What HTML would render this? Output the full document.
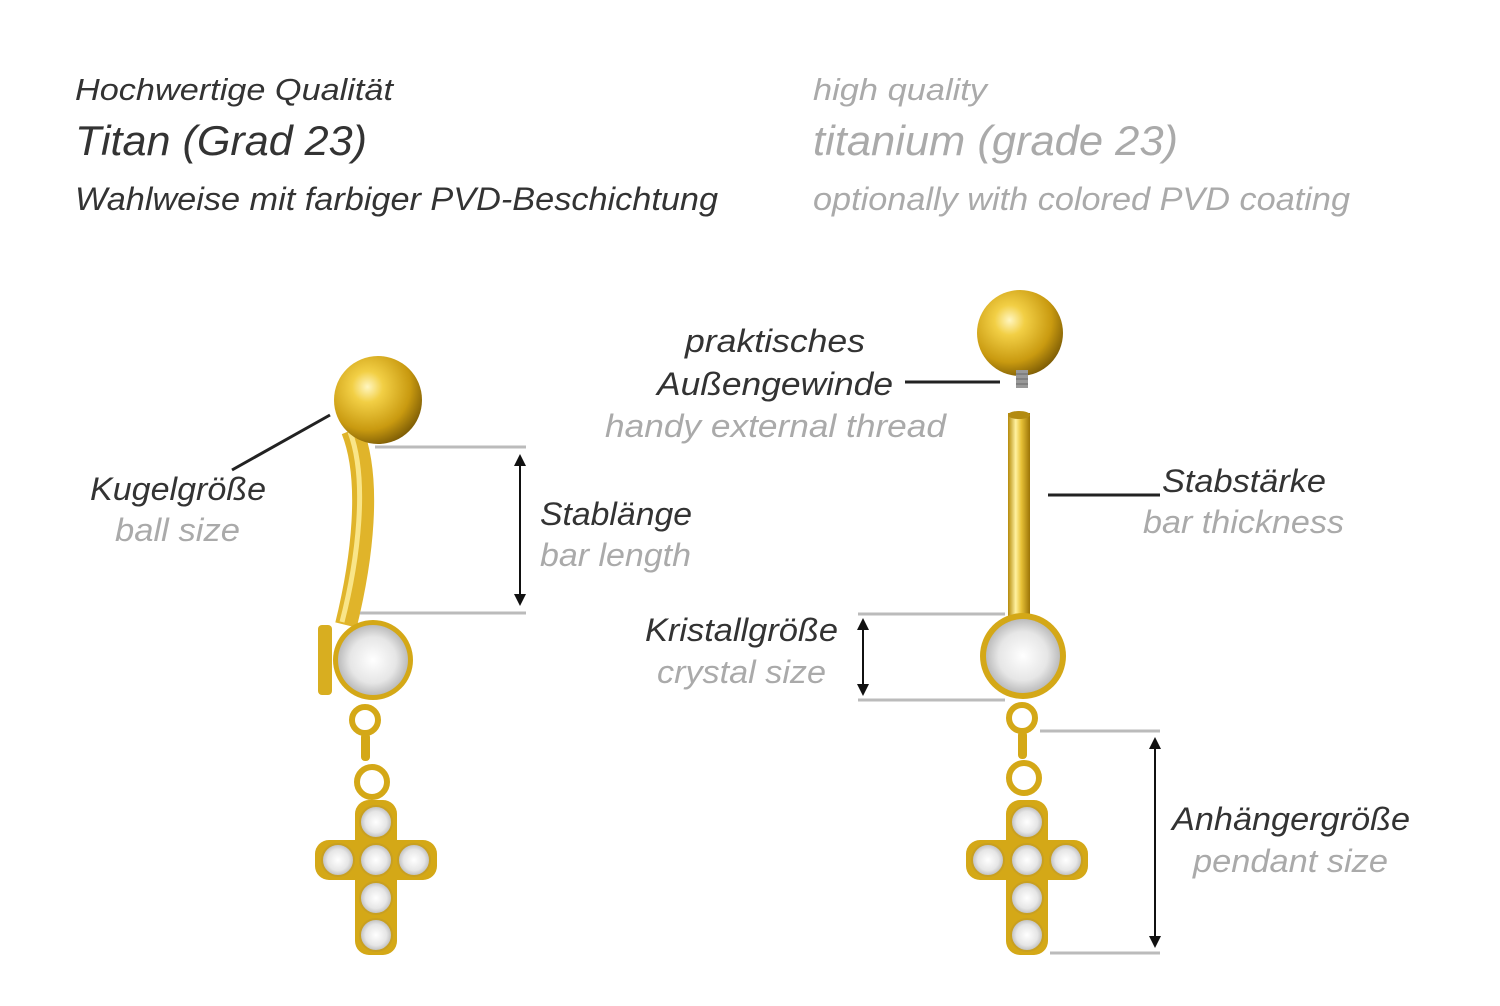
<!DOCTYPE html>
<html><head><meta charset="utf-8">
<style>
html,body{margin:0;padding:0;background:#fff;}
body{width:1500px;height:1001px;overflow:hidden;}
svg text{font-family:"Liberation Sans",Arial,sans-serif;font-style:italic;}
</style></head>
<body>
<svg width="1500" height="1001" viewBox="0 0 1500 1001" xmlns="http://www.w3.org/2000/svg">
<defs>
<radialGradient id="ball" cx="0.38" cy="0.35" r="0.7">
<stop offset="0" stop-color="#fff6c0"/><stop offset="0.25" stop-color="#f2cf45"/><stop offset="0.7" stop-color="#c99a10"/><stop offset="1" stop-color="#7a5a05"/></radialGradient>
<linearGradient id="bar" x1="0" x2="1" y1="0" y2="0">
<stop offset="0" stop-color="#b58a0a"/><stop offset="0.35" stop-color="#fff1a0"/><stop offset="0.6" stop-color="#e8c238"/><stop offset="1" stop-color="#9c7406"/></linearGradient>
<radialGradient id="gem" cx="0.5" cy="0.5" r="0.55">
<stop offset="0" stop-color="#ffffff"/><stop offset="0.6" stop-color="#e6e6e6"/><stop offset="0.9" stop-color="#bdbdbd"/><stop offset="1" stop-color="#8a8a8a"/></radialGradient>
<marker id="ah" viewBox="0 0 10 10" refX="5" refY="5" markerWidth="6" markerHeight="6" orient="auto-start-reverse"><path d="M0,0 L10,5 L0,10 z" fill="#111"/></marker>
</defs>

<g lengthAdjust="spacingAndGlyphs">
<text x="75" y="100" font-size="31" fill="#333" textLength="318" lengthAdjust="spacingAndGlyphs">Hochwertige Qualität</text>
<text x="75" y="155" font-size="42" fill="#333" textLength="292" lengthAdjust="spacingAndGlyphs">Titan (Grad 23)</text>
<text x="75" y="210" font-size="32" fill="#333" textLength="643" lengthAdjust="spacingAndGlyphs">Wahlweise mit farbiger PVD-Beschichtung</text>
<text x="813" y="100" font-size="31" fill="#aaa" textLength="174" lengthAdjust="spacingAndGlyphs">high quality</text>
<text x="813" y="155" font-size="42" fill="#aaa" textLength="365" lengthAdjust="spacingAndGlyphs">titanium (grade 23)</text>
<text x="813" y="210" font-size="32" fill="#aaa" textLength="537" lengthAdjust="spacingAndGlyphs">optionally with colored PVD coating</text>
</g>

<!-- LEFT piece -->
<g>
<path d="M352,430 C372,480 362,560 346,625" stroke="#e0b42a" stroke-width="22" fill="none"/>
<path d="M350,432 C368,480 358,560 342,622" stroke="#fff1a0" stroke-width="5" fill="none" opacity="0.8"/>
<circle cx="378" cy="400" r="44" fill="url(#ball)"/>
<rect x="318" y="625" width="14" height="70" rx="4" fill="#d8ae20"/>
<circle cx="373" cy="660" r="40" fill="#d4a817"/>
<circle cx="373" cy="660" r="35" fill="url(#gem)"/>
<circle cx="365" cy="720" r="13" fill="none" stroke="#d4a817" stroke-width="6"/>
<rect x="361" y="733" width="9" height="28" rx="4" fill="#d4a817"/>
<circle cx="372" cy="782" r="15" fill="none" stroke="#d4a817" stroke-width="6"/>
<g fill="#d4a817">
<rect x="355" y="800" width="42" height="155" rx="14"/>
<rect x="315" y="840" width="122" height="40" rx="14"/>
</g>
<g fill="url(#gem)" stroke="#c9a020" stroke-width="2">
<circle cx="376" cy="822" r="16"/><circle cx="376" cy="860" r="16"/><circle cx="376" cy="898" r="16"/><circle cx="376" cy="935" r="16"/>
<circle cx="338" cy="860" r="16"/><circle cx="414" cy="860" r="16"/>
</g>
</g>

<!-- LEFT annotations -->
<line x1="232" y1="470" x2="330" y2="415" stroke="#222" stroke-width="3"/>
<text x="90" y="500" font-size="32" fill="#333" textLength="176" lengthAdjust="spacingAndGlyphs">Kugelgröße</text>
<text x="115" y="541" font-size="32" fill="#aaa" textLength="125" lengthAdjust="spacingAndGlyphs">ball size</text>
<line x1="375" y1="447" x2="526" y2="447" stroke="#bbb" stroke-width="3"/>
<line x1="360" y1="613" x2="526" y2="613" stroke="#bbb" stroke-width="3"/>
<line x1="520" y1="460" x2="520" y2="600" stroke="#111" stroke-width="2" marker-start="url(#ah)" marker-end="url(#ah)"/>
<text x="540" y="525" font-size="32" fill="#333" textLength="152" lengthAdjust="spacingAndGlyphs">Stablänge</text>
<text x="540" y="566" font-size="32" fill="#aaa" textLength="151" lengthAdjust="spacingAndGlyphs">bar length</text>

<!-- RIGHT piece -->
<g>
<circle cx="1020" cy="333" r="43" fill="url(#ball)"/>
<rect x="1016" y="370" width="12" height="18" fill="#999"/>
<g stroke="#666" stroke-width="1"><line x1="1016" y1="374" x2="1028" y2="374"/><line x1="1016" y1="379" x2="1028" y2="379"/><line x1="1016" y1="384" x2="1028" y2="384"/></g>
<rect x="1008" y="413" width="22" height="205" fill="url(#bar)"/>
<ellipse cx="1019" cy="415" rx="11" ry="4" fill="#b38b10"/>
<circle cx="1023" cy="656" r="43" fill="#d4a817"/>
<circle cx="1023" cy="656" r="37" fill="url(#gem)"/>
<circle cx="1022" cy="718" r="13" fill="none" stroke="#d4a817" stroke-width="6"/>
<rect x="1018" y="731" width="9" height="28" rx="4" fill="#d4a817"/>
<circle cx="1024" cy="778" r="15" fill="none" stroke="#d4a817" stroke-width="6"/>
<g fill="#d4a817">
<rect x="1006" y="800" width="42" height="155" rx="14"/>
<rect x="966" y="840" width="122" height="40" rx="14"/>
</g>
<g fill="url(#gem)" stroke="#c9a020" stroke-width="2">
<circle cx="1027" cy="822" r="16"/><circle cx="1027" cy="860" r="16"/><circle cx="1027" cy="898" r="16"/><circle cx="1027" cy="935" r="16"/>
<circle cx="988" cy="860" r="16"/><circle cx="1066" cy="860" r="16"/>
</g>
</g>

<!-- RIGHT annotations -->
<text x="685" y="352" font-size="32" fill="#333" textLength="180" lengthAdjust="spacingAndGlyphs">praktisches</text>
<text x="657" y="395" font-size="32" fill="#333" textLength="236" lengthAdjust="spacingAndGlyphs">Außengewinde</text>
<line x1="905" y1="382" x2="1000" y2="382" stroke="#222" stroke-width="3"/>
<text x="605" y="437" font-size="32" fill="#aaa" textLength="341" lengthAdjust="spacingAndGlyphs">handy external thread</text>
<line x1="1048" y1="495" x2="1160" y2="495" stroke="#222" stroke-width="3"/>
<text x="1162" y="492" font-size="32" fill="#333" textLength="164" lengthAdjust="spacingAndGlyphs">Stabstärke</text>
<text x="1143" y="533" font-size="32" fill="#aaa" textLength="201" lengthAdjust="spacingAndGlyphs">bar thickness</text>
<text x="645" y="641" font-size="32" fill="#333" textLength="193" lengthAdjust="spacingAndGlyphs">Kristallgröße</text>
<text x="657" y="683" font-size="32" fill="#aaa" textLength="169" lengthAdjust="spacingAndGlyphs">crystal size</text>
<line x1="858" y1="614" x2="1005" y2="614" stroke="#bbb" stroke-width="3"/>
<line x1="858" y1="700" x2="1005" y2="700" stroke="#bbb" stroke-width="3"/>
<line x1="863" y1="624" x2="863" y2="690" stroke="#111" stroke-width="2" marker-start="url(#ah)" marker-end="url(#ah)"/>
<line x1="1040" y1="731" x2="1160" y2="731" stroke="#bbb" stroke-width="3"/>
<line x1="1050" y1="953" x2="1160" y2="953" stroke="#bbb" stroke-width="3"/>
<line x1="1155" y1="743" x2="1155" y2="942" stroke="#111" stroke-width="2" marker-start="url(#ah)" marker-end="url(#ah)"/>
<text x="1172" y="830" font-size="32" fill="#333" textLength="238" lengthAdjust="spacingAndGlyphs">Anhängergröße</text>
<text x="1193" y="872" font-size="32" fill="#aaa" textLength="195" lengthAdjust="spacingAndGlyphs">pendant size</text>
</svg>
</body></html>
